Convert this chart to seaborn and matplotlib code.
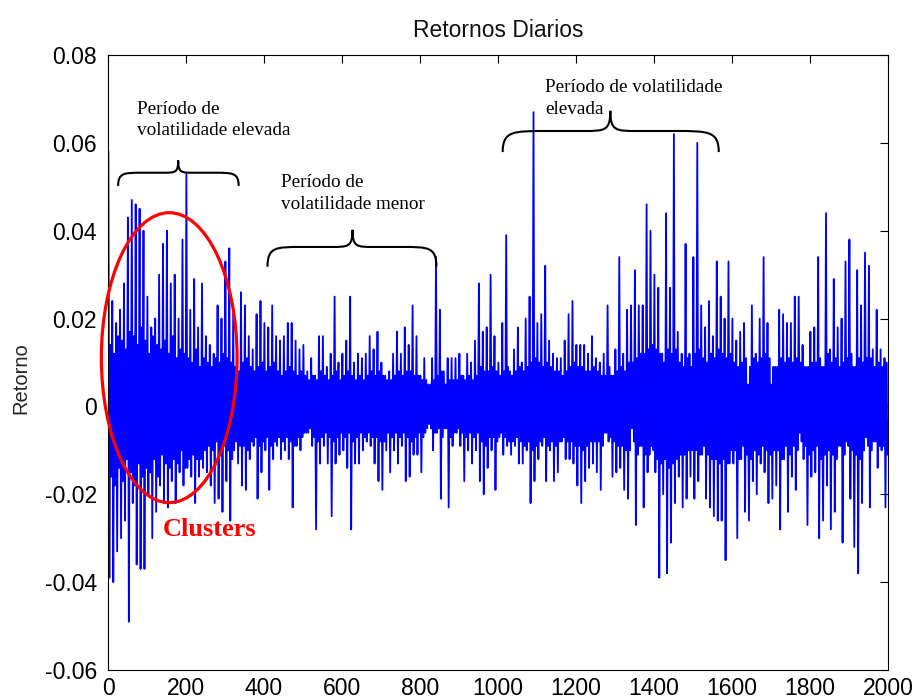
import numpy as np
import pandas as pd
import matplotlib
matplotlib.use("Agg")
import matplotlib.pyplot as plt
import seaborn as sns
from matplotlib.path import Path
from matplotlib.patches import PathPatch, Ellipse

# Daily returns (in thousandths): per 10 trading days
# an outer swing (spike up, spike down) and an inner swing (core band),
# one value every 2.5 days, split into segments of 250 days.
seg_0000 = [58, -39, 14, -16, 24, -40, 12, -18, 19, -33, 16, -14, 22, -30, 15, -17, 28, -26, 13, -12,
            43, -49, 17, -15, 47, -22, 16, -18, 46, -36, 14, -13, 45, -37, 18, -16, 40, -37, 15, -14,
            25, -20, 12, -15, 18, -30, 16, -12, 20, -24, 14, -16, 30, -18, 13, -11, 37, -22, 15, -13,
            40, -23, 12, -14, 28, -17, 16, -12, 30, -22, 11, -13, 20, -15, 13, -10, 38, -18, 12, -14,
            53, -14, 11, -12, 22, -16, 10, -11, 29, -22, 13, -12, 18, -16, 9, -12, 28, -14, 11, -10]
seg_0250 = [16, -15, 10, -9, 14, -18, 9, -10, 12, -22, 11, -8, 23, -21, 10, -11, 20, -24, 12, -9,
            33, -17, 11, -10, 36, -26, 10, -12, 21, -10, 9, -8, 10, -13, 8, -9, 26, -18, 10, -9,
            23, -19, 11, -10, 16, -12, 9, -8, 13, -9, 8, -7, 21, -21, 9, -9, 24, -15, 10, -8,
            19, -10, 8, -7, 18, -19, 9, -9, 23, -12, 10, -8, 16, -9, 8, -7, 15, -12, 7, -8,
            16, -10, 8, -7, 19, -12, 9, -8, 19, -23, 8, -9, 15, -9, 7, -7, 13, -10, 8, -7]
seg_0500 = [14, -6, 7, -6, 8, -6, 6, -5, 11, -9, 7, -7, 7, -28, 6, -8, 16, -13, 8, -7,
            16, -9, 7, -6, 9, -13, 6, -7, 12, -25, 7, -8, 25, -13, 8, -7, 10, -11, 6, -6,
            12, -10, 7, -7, 15, -14, 8, -6, 25, -28, 7, -8, 10, -13, 6, -7, 12, -13, 7, -6,
            11, -10, 6, -7, 12, -8, 7, -6, 16, -9, 8, -7, 13, -13, 7, -7, 17, -17, 8, -8,
            10, -19, 7, -8, 7, -10, 6, -6, 8, -15, 6, -7, 12, -10, 7, -6, 17, -13, 8, -7]
seg_0750 = [12, -9, 7, -6, 18, -17, 8, -7, 14, -16, 8, -8, 23, -11, 7, -7, 16, -11, 7, -6,
            7, -15, 6, -7, 11, -6, 6, -5, 5, -4, 5, -5, 11, -10, 6, -6, 34, -6, 7, -5,
            22, -21, 8, -7, 8, -5, 5, -5, 11, -23, 6, -7, 11, -9, 6, -6, 11, -6, 6, -5,
            12, -9, 7, -6, 7, -17, 6, -7, 12, -10, 7, -6, 10, -13, 6, -7, 15, -10, 7, -6,
            28, -17, 9, -8, 17, -20, 8, -9, 18, -14, 8, -7, 30, -10, 9, -7, 16, -19, 8, -8]
seg_1000 = [10, -7, 7, -6, 19, -11, 8, -7, 39, -9, 9, -8, 8, -11, 7, -8, 13, -9, 8, -7,
            18, -13, 9, -8, 10, -13, 8, -9, 20, -10, 9, -8, 25, -22, 10, -10, 67, -17, 11, -9,
            19, -12, 10, -8, 21, -9, 9, -7, 32, -17, 10, -9, 15, -10, 9, -8, 12, -17, 8, -9,
            11, -15, 8, -8, 11, -8, 7, -7, 15, -12, 8, -8, 21, -12, 9, -8, 24, -13, 10, -9,
            14, -18, 9, -9, 14, -22, 9, -10, 14, -17, 8, -9, 12, -14, 8, -8, 16, -13, 9, -8]
seg_1250 = [11, -15, 8, -8, 10, -19, 7, -9, 12, -6, 7, -6, 23, -8, 9, -7, 7, -16, 7, -8,
            13, -15, 8, -9, 34, -14, 9, -9, 12, -19, 8, -10, 22, -21, 10, -10, 23, -5, 10, -8,
            31, -27, 11, -11, 23, -9, 12, -9, 23, -23, 12, -11, 46, -15, 13, -11, 40, -9, 14, -10,
            30, -15, 13, -12, 27, -39, 12, -13, 12, -20, 10, -12, 44, -38, 13, -14, 27, -31, 12, -13,
            62, -22, 13, -12, 17, -16, 10, -11, 12, -23, 9, -11, 37, -21, 11, -10, 12, -16, 9, -10]
seg_1500 = [34, -21, 12, -10, 60, -17, 13, -11, 23, -11, 11, -9, 18, -21, 10, -11, 24, -23, 12, -12,
            16, -25, 11, -12, 33, -26, 13, -13, 25, -26, 12, -12, 20, -35, 11, -13, 33, -13, 12, -10,
            20, -13, 10, -10, 15, -30, 9, -12, 17, -12, 10, -9, 19, -24, 11, -11, 5, -26, 9, -12,
            23, -17, 11, -10, 12, -20, 10, -11, 20, -13, 11, -9, 34, -15, 12, -10, 19, -22, 11, -11,
            5, -21, 9, -10, 9, -18, 9, -10, 22, -28, 11, -12, 21, -12, 10, -9, 19, -24, 11, -11]
seg_1750 = [19, -16, 10, -9, 25, -19, 11, -10, 25, -6, 10, -8, 14, -12, 9, -9, 9, -27, 9, -11,
            17, -16, 10, -10, 18, -15, 10, -9, 34, -30, 11, -12, 9, -26, 9, -11, 44, -18, 12, -10,
            13, -28, 10, -11, 29, -24, 11, -12, 18, -9, 9, -9, 20, -31, 10, -11, 33, -8, 11, -9,
            38, -21, 12, -10, 9, -32, 9, -11, 31, -38, 11, -12, 23, -22, 10, -10, 35, -7, 11, -9,
            32, -23, 11, -10, 13, -8, 9, -8, 22, -14, 10, -9, 13, -10, 9, -9, 11, -23, 10, -11]

x_ticks = [0, 200, 400, 600, 800, 1000, 1200, 1400, 1600, 1800, 2000]
y_ticks = [0.08, 0.06, 0.04, 0.02, 0.0, -0.02, -0.04, -0.06]
y_tick_labels = ["0.08", "0.06", "0.04", "0.02", "0", "-0.02", "-0.04", "-0.06"]

title = "Retornos Diarios"
y_label = "Retorno"

ret_milli = seg_0000 + seg_0250 + seg_0500 + seg_0750 + seg_1000 + seg_1250 + seg_1500 + seg_1750
returns = np.array(ret_milli, dtype=float) / 1000.0
days = np.arange(len(returns)) * 2.5 + 1
df = pd.DataFrame({"dia": days, "retorno": returns})

sns.set_theme(style="white")
plt.rcParams["font.family"] = ["Liberation Sans", "DejaVu Sans"]

fig = plt.figure(figsize=(9.13, 7.0), dpi=100)
ax = fig.add_axes([108 / 913, 30 / 700, 780 / 913, 615 / 700])

sns.lineplot(data=df, x="dia", y="retorno", ax=ax, color=(0, 0, 1), linewidth=1.3,
             estimator=None, sort=False)

ax.set_xlim(0, 2000)
ax.set_ylim(-0.06, 0.08)
ax.set_xticks(x_ticks)
ax.set_xticklabels([str(t) for t in x_ticks])
ax.set_yticks(y_ticks)
ax.set_yticklabels(y_tick_labels)
ax.tick_params(direction="in", length=6, width=0.8, top=True, right=True,
               labelsize=16.5, colors="black")
ax.tick_params(axis="y", pad=8)
ax.tick_params(axis="x", pad=5)
for s in ax.spines.values():
    s.set_visible(True)
    s.set_color("black")
    s.set_linewidth(0.8)

ax.set_xlabel("")
ax.set_title(title, fontsize=16.5, pad=13, color="#111111")
ax.set_ylabel(y_label, fontsize=14.5)
ax.yaxis.set_label_coords(-0.099, 0.475)


def brace(ax, x0, x1, xm, y0, yf, yt):
    hl = xm - x0
    hr = x1 - xm
    verts = [
        (x0, y0),
        (x0, yf), (x0 + 0.1 * hl, yf), (x0 + 0.4 * hl, yf),
        (xm - 0.25 * hl, yf),
        (xm - 0.05 * hl, yf), (xm, yf), (xm, yt),
        (xm, yf), (xm + 0.05 * hr, yf), (xm + 0.25 * hr, yf),
        (x1 - 0.4 * hr, yf),
        (x1 - 0.1 * hr, yf), (x1, yf), (x1, y0),
    ]
    codes = [Path.MOVETO,
             Path.CURVE4, Path.CURVE4, Path.CURVE4,
             Path.LINETO,
             Path.CURVE4, Path.CURVE4, Path.CURVE4,
             Path.CURVE4, Path.CURVE4, Path.CURVE4,
             Path.LINETO,
             Path.CURVE4, Path.CURVE4, Path.CURVE4]
    ax.add_patch(PathPatch(Path(verts, codes), facecolor="none", edgecolor="black",
                           linewidth=1.5, zorder=5, clip_on=False))


brace(ax, 26, 335, 180, 0.0502, 0.0532, 0.0560)
brace(ax, 409, 842, 627, 0.0318, 0.0363, 0.0402)
brace(ax, 1012, 1566, 1288, 0.0579, 0.0627, 0.0673)

serif = ["Liberation Serif", "DejaVu Serif"]
ann = dict(fontsize=13.8, family=serif, ha="left", va="center", color="black", zorder=6)
ax.text(74, 0.0675, "Período de", **ann)
ax.text(74, 0.0627, "volatilidade elevada", **ann)
ax.text(444, 0.0509, "Período de", **ann)
ax.text(444, 0.0459, "volatilidade menor", **ann)
ax.text(1121, 0.0727, "Período de volatilidade", **ann)
ax.text(1121, 0.0677, "elevada", **ann)

ax.add_patch(Ellipse((157, 0.0111), 348, 0.066, facecolor="none", edgecolor="red",
                     linewidth=2.3, zorder=6, clip_on=False))
ax.text(141, -0.0281, "Clusters", fontsize=19, family=serif, fontweight="bold",
        color="red", ha="left", va="center", zorder=6)

fig.savefig("out.png", dpi=100, facecolor="white")
